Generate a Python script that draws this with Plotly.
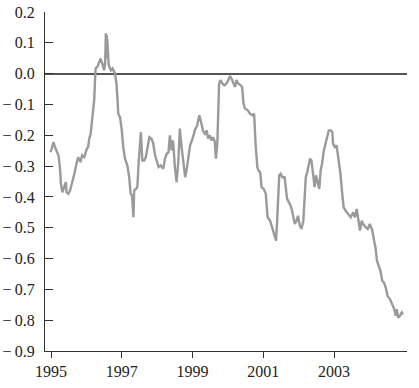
import plotly.graph_objects as go

years = [
    1994.99, 1995.07, 1995.11, 1995.17, 1995.21, 1995.25, 1995.28, 1995.32, 1995.38, 1995.42,
    1995.44, 1995.49, 1995.54, 1995.58, 1995.66, 1995.73, 1995.77, 1995.83, 1995.88, 1995.94,
    1996.01, 1996.05, 1996.08, 1996.12, 1996.15, 1996.19, 1996.22, 1996.24, 1996.26, 1996.31,
    1996.36, 1996.40, 1996.45, 1996.50, 1996.53, 1996.55, 1996.56, 1996.57, 1996.59, 1996.61,
    1996.63, 1996.69, 1996.74, 1996.81, 1996.85, 1996.88, 1996.90, 1996.95, 1997.00, 1997.04,
    1997.09, 1997.16, 1997.21, 1997.25, 1997.29, 1997.33, 1997.35, 1997.40, 1997.44, 1997.48,
    1997.51, 1997.54, 1997.58, 1997.63, 1997.68, 1997.73, 1997.78, 1997.84, 1997.89, 1997.94,
    1997.99, 1998.04, 1998.10, 1998.17, 1998.22, 1998.27, 1998.32, 1998.36, 1998.41, 1998.45,
    1998.50, 1998.55, 1998.60, 1998.64, 1998.69, 1998.74, 1998.79, 1998.83, 1998.88, 1998.93,
    1999.00, 1999.07, 1999.13, 1999.19, 1999.24, 1999.30, 1999.35, 1999.40, 1999.44, 1999.49,
    1999.54, 1999.58, 1999.63, 1999.66, 1999.70, 1999.73, 1999.75, 1999.79, 1999.84, 1999.90,
    1999.96, 2000.01, 2000.06, 2000.10, 2000.15, 2000.20, 2000.24, 2000.29, 2000.36, 2000.40,
    2000.44, 2000.48, 2000.56, 2000.62, 2000.69, 2000.74, 2000.78, 2000.83, 2000.86, 2000.91,
    2000.95, 2001.01, 2001.07, 2001.12, 2001.19, 2001.23, 2001.28, 2001.33, 2001.36, 2001.39,
    2001.42, 2001.45, 2001.49, 2001.54, 2001.60, 2001.64, 2001.67, 2001.72, 2001.77, 2001.81,
    2001.84, 2001.89, 2001.94, 2001.98, 2002.03, 2002.08, 2002.13, 2002.16, 2002.20, 2002.24,
    2002.29, 2002.32, 2002.36, 2002.41, 2002.45, 2002.49, 2002.53, 2002.58, 2002.62, 2002.66,
    2002.71, 2002.76, 2002.80, 2002.85, 2002.91, 2002.95, 2002.97, 2003.02, 2003.07, 2003.12,
    2003.14, 2003.18, 2003.23, 2003.27, 2003.32, 2003.40, 2003.47, 2003.54, 2003.59, 2003.64,
    2003.68, 2003.73, 2003.78, 2003.82, 2003.89, 2003.95, 2004.01, 2004.08, 2004.13, 2004.17,
    2004.21, 2004.26, 2004.31, 2004.36, 2004.41, 2004.46, 2004.51, 2004.58, 2004.64, 2004.70,
    2004.74, 2004.77, 2004.81, 2004.86, 2004.91, 2004.95,
]

values = [
    -0.255, -0.222, -0.238, -0.255, -0.265, -0.303, -0.357, -0.385, -0.368, -0.352,
    -0.385, -0.390, -0.379, -0.363, -0.325, -0.287, -0.271, -0.287, -0.265, -0.271,
    -0.244, -0.238, -0.211, -0.195, -0.162, -0.141, -0.086, -0.032, 0.017, 0.022,
    0.038, 0.049, 0.033, 0.011, 0.033, 0.131, 0.050, 0.125, 0.109, 0.066,
    0.028, 0.011, 0.017, 0.000, -0.032, -0.086, -0.130, -0.141, -0.184, -0.238,
    -0.275, -0.300, -0.336, -0.390, -0.396, -0.466, -0.379, -0.374, -0.368, -0.282,
    -0.244, -0.190, -0.282, -0.282, -0.271, -0.238, -0.206, -0.211, -0.227, -0.265,
    -0.287, -0.303, -0.298, -0.309, -0.276, -0.260, -0.255, -0.200, -0.249, -0.217,
    -0.303, -0.352, -0.282, -0.178, -0.238, -0.292, -0.336, -0.314, -0.271, -0.233,
    -0.211, -0.182, -0.168, -0.135, -0.157, -0.187, -0.195, -0.184, -0.211, -0.200,
    -0.217, -0.206, -0.222, -0.276, -0.227, -0.065, -0.032, -0.021, -0.032, -0.038,
    -0.032, -0.021, -0.008, -0.016, -0.032, -0.043, -0.021, -0.032, -0.038, -0.043,
    -0.097, -0.113, -0.119, -0.130, -0.135, -0.130, -0.227, -0.303, -0.314, -0.320,
    -0.368, -0.374, -0.390, -0.466, -0.477, -0.493, -0.509, -0.531, -0.542, -0.477,
    -0.390, -0.330, -0.325, -0.336, -0.336, -0.390, -0.406, -0.417, -0.428, -0.444,
    -0.466, -0.488, -0.477, -0.461, -0.493, -0.504, -0.477, -0.412, -0.336, -0.320,
    -0.298, -0.276, -0.282, -0.336, -0.368, -0.330, -0.347, -0.374, -0.314, -0.292,
    -0.249, -0.227, -0.200, -0.184, -0.184, -0.190, -0.227, -0.238, -0.233, -0.276,
    -0.298, -0.325, -0.390, -0.434, -0.444, -0.455, -0.466, -0.450, -0.466, -0.439,
    -0.471, -0.509, -0.477, -0.488, -0.498, -0.504, -0.488, -0.509, -0.542, -0.564,
    -0.607, -0.623, -0.640, -0.672, -0.678, -0.694, -0.721, -0.732, -0.748, -0.764,
    -0.786, -0.764, -0.792, -0.786, -0.775, -0.781,
]

x_ticks = [1995, 1997, 1999, 2001, 2003]
x_tick_labels = ["1995", "1997", "1999", "2001", "2003"]
y_ticks = [0.2, 0.1, 0.0, -0.1, -0.2, -0.3, -0.4, -0.5, -0.6, -0.7, -0.8, -0.9]
y_tick_labels = ["0.2", "0.1", "0.0", "\u2212\u20090.1", "\u2212\u20090.2", "\u2212\u20090.3",
                 "\u2212\u20090.4", "\u2212\u20090.5", "\u2212\u20090.6", "\u2212\u20090.7",
                 "\u2212\u20090.8", "\u2212\u20090.9"]

fig = go.Figure()
fig.add_trace(go.Scatter(
    x=years, y=values, mode="lines",
    line=dict(color="#9a9a9a", width=2.4),
    showlegend=False, hoverinfo="skip",
))

font = dict(family="Liberation Serif, Times New Roman, serif", size=16, color="#222")

fig.update_layout(
    width=419, height=388,
    margin=dict(l=45, r=12, t=12, b=37),
    paper_bgcolor="white", plot_bgcolor="white",
    font=font,
    showlegend=False,
)
fig.update_xaxes(
    range=[1994.83, 2005.06],
    tickvals=x_ticks, ticktext=x_tick_labels,
    showgrid=False, zeroline=False, automargin=False,
    showline=True, linecolor="#333", linewidth=1.2,
    ticks="outside", ticklen=6, tickcolor="#333", tickwidth=1.2,
    tickfont=font,
)
fig.update_yaxes(
    range=[-0.9, 0.2],
    tickvals=y_ticks, ticktext=y_tick_labels,
    showgrid=False, automargin=False,
    zeroline=True, zerolinecolor="#555", zerolinewidth=1.5,
    showline=True, linecolor="#333", linewidth=1.2,
    ticks="inside", ticklen=8, tickcolor="#333", tickwidth=1.2,
    ticklabelstandoff=6,
    tickfont=font,
)

fig.write_html(
    "out.html",
    config={"displayModeBar": False},
    post_script="document.body.style.margin='0';document.body.style.overflow='hidden';",
)
